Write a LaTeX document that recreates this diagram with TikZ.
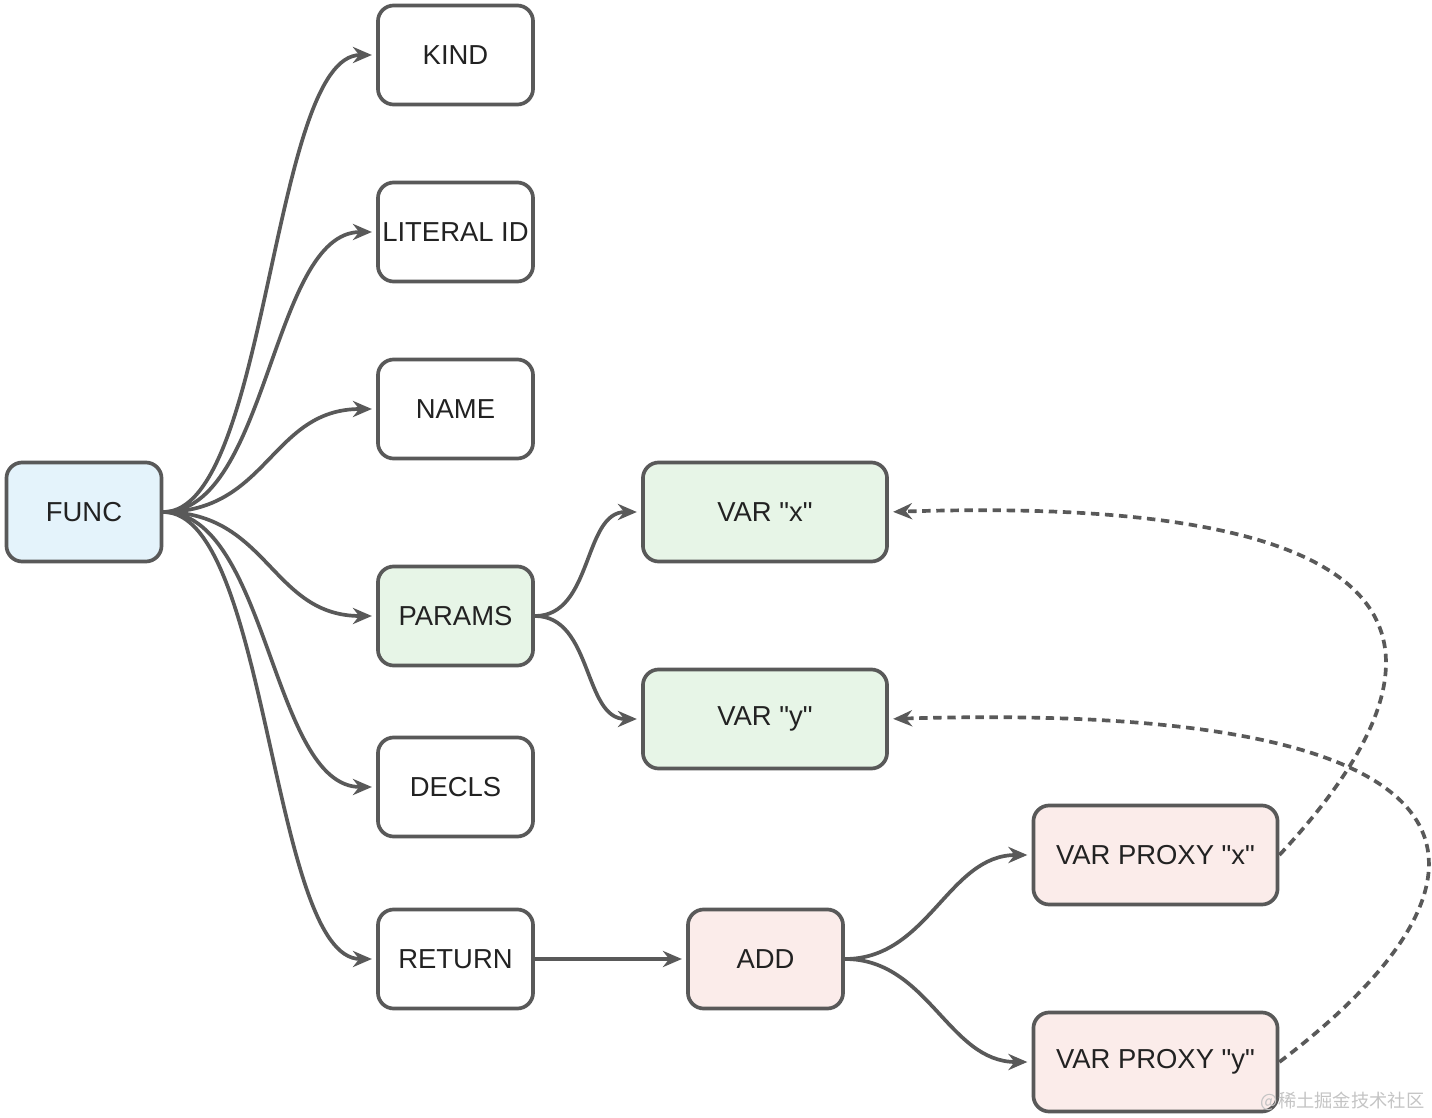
\documentclass[tikz,border=0pt]{standalone}
\usepackage{fontspec}
\setmainfont{Liberation Sans}
\newfontfamily\cjkfont{Noto Sans CJK SC}
\usetikzlibrary{arrows.meta}
\definecolor{edgec}{HTML}{595959}
\definecolor{txt}{HTML}{222222}
\definecolor{bluefill}{HTML}{E4F3FB}
\definecolor{greenfill}{HTML}{E7F5E7}
\definecolor{pinkfill}{HTML}{FBECEA}
\definecolor{markc}{HTML}{C4C4C4}
\newcommand{\qq}[1]{\textquotedbl#1\textquotedbl}
\begin{document}
\begin{tikzpicture}[x=0.01cm,y=-0.01cm,
  box/.style={draw=edgec, line width=1.05pt, rounded corners=4.5pt,
    minimum width=1.55cm, minimum height=0.99cm, inner sep=0pt,
    font=\fontsize{7.8}{9}\selectfont, text=txt, fill=white},
  widebox/.style={box, minimum width=2.44cm},
  link/.style={draw=edgec, line width=1.05pt,
    -{Stealth[length=5.4pt,width=4.6pt]}, shorten >=1.2pt},
  refline/.style={link, dash pattern=on 2.4pt off 1.6pt}]
\useasboundingbox (0,0) rectangle (1432,1118);

% tree nodes
\node[box, fill=bluefill] (func) at (84,512) {FUNC};
\node[box] (kind)    at (455.5,55)  {KIND};
\node[box] (litid)   at (455.5,232) {LITERAL ID};
\node[box] (name)    at (455.5,409) {NAME};
\node[box, fill=greenfill] (params) at (455.5,616) {PARAMS};
\node[box] (decls)   at (455.5,787) {DECLS};
\node[box] (ret)     at (455.5,959) {RETURN};
\node[widebox, fill=greenfill] (varx) at (765,512) {VAR \qq{x}};
\node[widebox, fill=greenfill] (vary) at (765,719) {VAR \qq{y}};
\node[box, fill=pinkfill] (add) at (765.5,959) {ADD};
\node[widebox, fill=pinkfill] (px) at (1155.5,855)  {VAR PROXY \qq{x}};
\node[widebox, fill=pinkfill] (py) at (1155.5,1062) {VAR PROXY \qq{y}};

% children of FUNC
\foreach \c in {kind,litid,name,params,decls,ret}
  \draw[link] (func.east) .. controls +(105,0) and +(-105,0) .. (\c.west);

% parameters and the return expression
\draw[link] (params.east) to[out=0,in=180] (varx.west);
\draw[link] (params.east) to[out=0,in=180] (vary.west);
\draw[link] (ret.east) -- (add.west);
\draw[link] (add.east) to[out=0,in=180] (px.west);
\draw[link] (add.east) to[out=0,in=180] (py.west);

% proxies refer back to their variables
\draw[refline] (px.east) .. controls (1480,640) and (1420,495) .. (varx.east);
\draw[refline] (py.east) .. controls (1520,880) and (1520,700) .. (vary.east);

% watermark
\node[font=\cjkfont\fontsize{5.2}{6}\selectfont, text=markc, anchor=east, inner sep=0pt]
  (mark) at (1425,1101) {@稀土掘金技术社区};
\end{tikzpicture}
\end{document}
